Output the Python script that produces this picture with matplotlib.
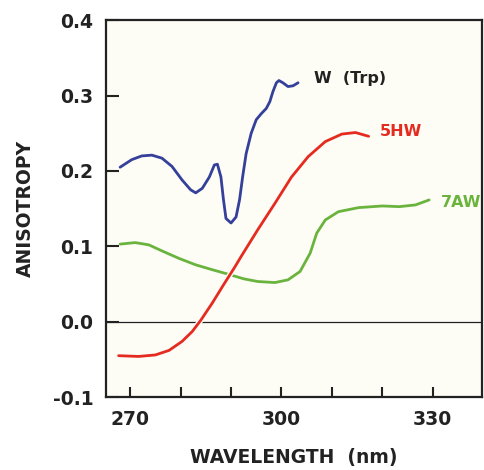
import matplotlib
matplotlib.use("Agg")
import matplotlib.pyplot as plt
import matplotlib.patheffects as pe

# W (Trp)
trp_x = [268.0, 270.3, 272.3, 274.3, 276.3, 278.3, 280.3, 282.0, 283.0, 284.3, 285.7, 286.7,
         287.3, 288.0, 288.5, 289.0, 290.0, 291.0, 291.7, 292.3, 293.0, 294.0, 295.0, 296.0,
         297.0, 297.7, 298.3, 299.0, 299.5, 300.3, 301.3, 302.3, 303.3]
trp_y = [0.205, 0.215, 0.220, 0.221, 0.217, 0.206, 0.188, 0.175, 0.171, 0.177, 0.192, 0.208,
         0.209, 0.192, 0.162, 0.137, 0.131, 0.139, 0.162, 0.192, 0.223, 0.250, 0.268, 0.276,
         0.283, 0.292, 0.305, 0.317, 0.320, 0.317, 0.312, 0.313, 0.317]

# 5HW
hw5_x = [267.7, 271.7, 275.0, 277.7, 280.3, 282.3, 284.0, 286.3, 288.7, 290.7, 292.0, 295.3,
         298.7, 302.0, 305.3, 308.7, 312.0, 314.7, 317.3]
hw5_y = [-0.045, -0.046, -0.044, -0.038, -0.026, -0.013, 0.002, 0.025, 0.051, 0.072, 0.0865,
         0.122, 0.157, 0.192, 0.219, 0.239, 0.249, 0.251, 0.246]

# 7AW
aw7_x = [268.0, 271.0, 273.7, 276.3, 279.7, 283.0, 286.3, 288.7, 291.0, 292.5, 295.3, 298.7,
         301.3, 303.7, 305.7, 307.0, 308.7, 311.3, 315.3, 320.0, 323.4, 326.6, 329.3]
aw7_y = [0.103, 0.105, 0.102, 0.094, 0.084, 0.0755, 0.069, 0.0645, 0.060, 0.057, 0.0534, 0.052,
         0.0556, 0.0667, 0.091, 0.1175, 0.135, 0.146, 0.1514, 0.1536, 0.1527, 0.155, 0.1616]

x_ticks = [270, 280, 290, 300, 310, 320, 330]
x_labels = ["270", "", "", "300", "", "", "330"]
y_ticks = [-0.1, 0.0, 0.1, 0.2, 0.3, 0.4]
y_labels = ["-0.1", "0.0", "0.1", "0.2", "0.3", "0.4"]

c_blue = "#34409a"
c_red = "#e52b20"
c_green = "#6ab43e"
bg = "#fdfcf5"

fig = plt.figure(figsize=(4.84, 4.70), dpi=100)
ax = fig.add_axes([0.219, 0.155, 0.777, 0.802])
ax.set_facecolor(bg)

ax.axhline(0, color="#222222", lw=0.9, zorder=1)
style = dict(lw=2.0, solid_joinstyle="round", solid_capstyle="round")
ax.plot(trp_x, trp_y, color=c_blue, zorder=3, **style)
ax.plot(aw7_x, aw7_y, color=c_green, zorder=2, **style)
ax.plot(hw5_x, hw5_y, color=c_red, zorder=4,
        path_effects=[pe.Stroke(linewidth=4.0, foreground=bg), pe.Normal()], **style)

tfont = dict(fontsize=11.5, fontweight="bold", va="center", ha="left")
ax.text(306.4, 0.323, "W  (Trp)", color="#222222", **tfont)
ax.text(319.6, 0.252, "5HW", color=c_red, **tfont)
ax.text(331.6, 0.158, "7AW", color=c_green, **tfont)

ax.set_xlim(265.2, 339.8)
ax.set_ylim(-0.1, 0.4)
ax.set_xticks(x_ticks)
ax.set_xticklabels(x_labels)
ax.set_yticks(y_ticks)
ax.set_yticklabels(y_labels)
ax.tick_params(axis="both", direction="in", width=1.5, labelsize=13.5, colors="#222222")
ax.tick_params(axis="y", length=9, pad=9)
ax.tick_params(axis="x", length=7, pad=9)
for lab in ax.get_xticklabels() + ax.get_yticklabels():
    lab.set_fontweight("bold")
for s in ax.spines.values():
    s.set_linewidth(1.6)
    s.set_color("#222222")

ax.set_xlabel("WAVELENGTH  (nm)", fontsize=13.5, fontweight="bold", color="#222222", labelpad=14)
ax.set_ylabel("ANISOTROPY", fontsize=13.5, fontweight="bold", color="#222222", labelpad=13)

fig.savefig("out.png", dpi=100, facecolor="white")
